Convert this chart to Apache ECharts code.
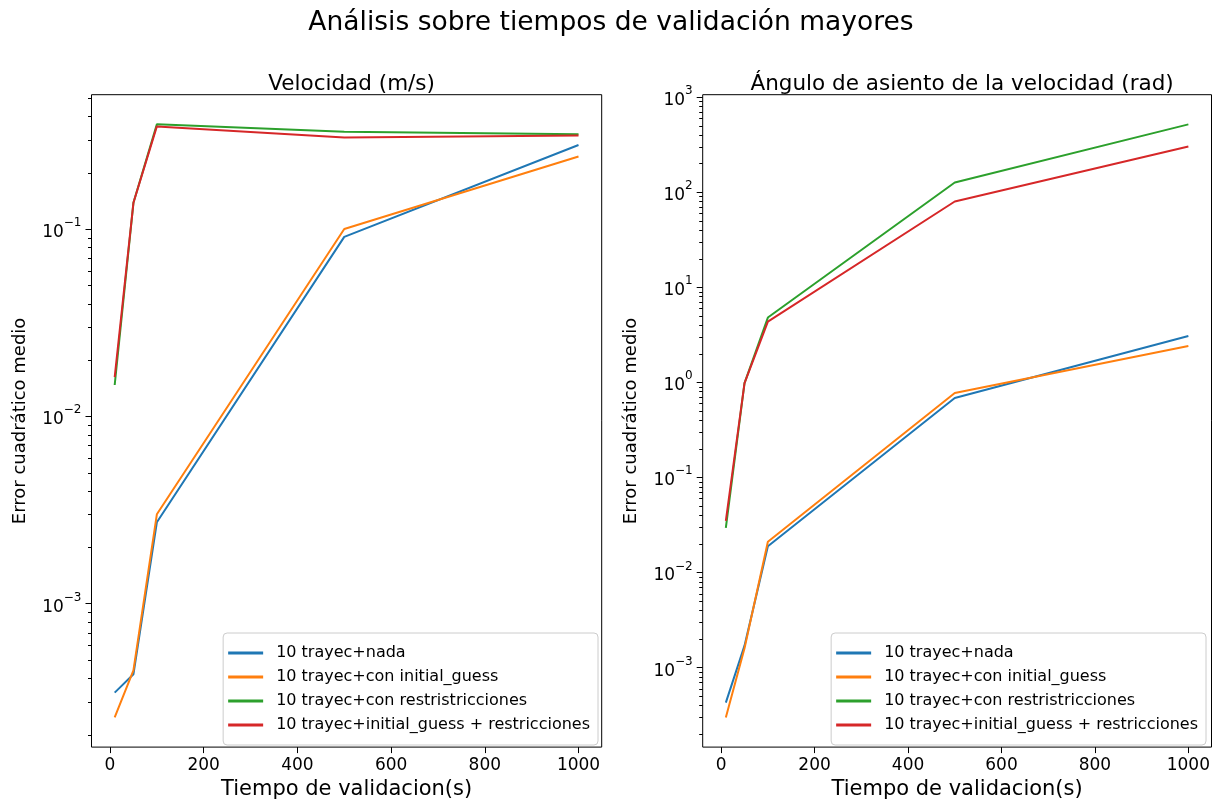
<!DOCTYPE html>
<html>
<head>
<meta charset="utf-8">
<script src="https://cdn.jsdelivr.net/npm/echarts@6/dist/echarts.min.js"></script>
<style>
  html, body { margin: 0; padding: 0; background: #ffffff; }
  #chart { width: 1219px; height: 805px; }
</style>
</head>
<body>
<div id="chart"></div>
<script>
// Validation times (s) shared by both panels
const validationTimes = [10, 50, 100, 500, 1000];

const seriesNames = [
  '10 trayec+nada',
  '10 trayec+con initial_guess',
  '10 trayec+con restristricciones',
  '10 trayec+initial_guess + restricciones'
];
const seriesColors = ['#1f77b4', '#ff7f0e', '#2ca02c', '#d62728'];

// Mean squared error, speed (m/s)
const velNada        = [3.35e-4, 4.2e-4, 2.72e-3, 0.0908, 0.281];
const velInitGuess   = [2.47e-4, 4.4e-4, 3.0e-3, 0.100, 0.244];
const velRestr       = [0.0147, 0.138, 0.362, 0.331, 0.321];
const velInitRestr   = [0.0162, 0.138, 0.353, 0.308, 0.316];

// Mean squared error, pitch angle of the velocity (rad)
const angNada        = [4.28e-4, 1.7e-3, 0.0189, 0.684, 3.06];
const angInitGuess   = [2.99e-4, 1.6e-3, 0.021, 0.771, 2.40];
const angRestr       = [0.0294, 0.98, 4.79, 126, 515];
const angInitRestr   = [0.0348, 0.98, 4.35, 79.6, 301];

const xTickValues = [0, 200, 400, 600, 800, 1000];
const velDecades = [1e-3, 1e-2, 1e-1];
const angDecades = [1e-3, 1e-2, 1e-1, 1, 10, 100, 1000];

const panelTitles = ['Velocidad (m/s)', 'Ángulo de asiento de la velocidad (rad)'];
const figureTitle = 'Análisis sobre tiempos de validación mayores';
const xLabel = 'Tiempo de validacion(s)';
const yLabel = 'Error cuadrático medio';

const FONT = 'DejaVu Sans';

// autoscale limits with 5% margin (log-space for y)
function linLimits(vals) {
  const lo = Math.min(...vals), hi = Math.max(...vals), m = 0.05 * (hi - lo);
  return [lo - m, hi + m];
}
function logLimits(groups) {
  const all = [].concat(...groups).map(Math.log10);
  const lo = Math.min(...all), hi = Math.max(...all), m = 0.05 * (hi - lo);
  return [Math.pow(10, lo - m), Math.pow(10, hi + m)];
}
// 2..9 x 10^k positions inside the axis range
function minorTicks(lim) {
  const out = [];
  for (let k = -6; k <= 4; k++) {
    for (let j = 2; j <= 9; j++) {
      const v = j * Math.pow(10, k);
      if (v >= lim[0] && v <= lim[1]) out.push(v);
    }
  }
  return out;
}
function powerLabel(v) {
  const e = Math.round(Math.log10(v));
  const s = e < 0 ? '\u2212' + (-e) : String(e);
  return '{b|10}{s|' + s + '}';
}

const velGroups = [velNada, velInitGuess, velRestr, velInitRestr];
const angGroups = [angNada, angInitGuess, angRestr, angInitRestr];
const xLim = linLimits(validationTimes);
const velLim = logLimits(velGroups);
const angLim = logLimits(angGroups);

const grids = [
  { left: 91.5, right: 1219 - 601.7, top: 94.7, bottom: 805 - 750.7 },
  { left: 702.7, right: 1219 - 1211.5, top: 94.7, bottom: 805 - 750.7 }
];

function xAxisFor(gridIndex) {
  return {
    type: 'value', gridIndex, min: xLim[0], max: xLim[1], position: 'bottom',
    name: xLabel, nameLocation: 'middle', nameGap: 30,
    nameTextStyle: { fontFamily: FONT, fontSize: 21, color: '#000' },
    axisLine: { show: false, onZero: false },
    splitLine: { show: false },
    axisTick: { show: true, inside: false, length: 6, customValues: xTickValues,
                lineStyle: { color: '#000', width: 1 } },
    axisLabel: { customValues: xTickValues, margin: 10, formatter: v => String(v),
                 fontFamily: FONT, fontSize: 17, color: '#000' }
  };
}
function yAxisFor(gridIndex, lim, decades) {
  return {
    type: 'log', logBase: 10, gridIndex, min: lim[0], max: lim[1], position: 'left',
    name: yLabel, nameLocation: 'middle', nameGap: 62, nameRotate: 90,
    nameTextStyle: { fontFamily: FONT, fontSize: 18, color: '#000' },
    axisLine: { show: false, onZero: false },
    splitLine: { show: false },
    minorTick: { show: false },
    axisTick: { show: true, inside: false, length: 6, customValues: decades,
                lineStyle: { color: '#000', width: 1 } },
    axisLabel: {
      customValues: decades, margin: 10, formatter: powerLabel,
      rich: {
        b: { fontFamily: FONT, fontSize: 17, color: '#000', lineHeight: 24, verticalAlign: 'bottom' },
        s: { fontFamily: FONT, fontSize: 12, color: '#000', lineHeight: 12, verticalAlign: 'top' }
      }
    }
  };
}

const series = [];
function addPanel(groups, xAxisIndex, yAxisIndex) {
  groups.forEach((vals, i) => {
    series.push({
      type: 'line', name: seriesNames[i], xAxisIndex, yAxisIndex,
      data: validationTimes.map((t, k) => [t, vals[k]]),
      symbol: 'none', smooth: false,
      lineStyle: { color: seriesColors[i], width: 2 },
      itemStyle: { color: seriesColors[i] },
      emphasis: { disabled: true }
    });
  });
}
// minor log ticks on the left spine, placed through the axis scale
function addMinorTicks(lim, xAxisIndex, yAxisIndex) {
  series.push({
    type: 'custom', xAxisIndex, yAxisIndex, silent: true, clip: false, z: 5,
    data: minorTicks(lim).map(v => [xLim[0], v]),
    renderItem: (params, api) => {
      const p = api.coord([api.value(0), api.value(1)]);
      const y = Math.round(p[1]) + 0.5;
      return {
        type: 'line',
        shape: { x1: p[0] - 3.5, y1: y, x2: p[0], y2: y },
        style: { stroke: '#000', lineWidth: 1 }
      };
    }
  });
}
addPanel(velGroups, 0, 0);
addPanel(angGroups, 1, 1);
addMinorTicks(velLim, 0, 0);
addMinorTicks(angLim, 1, 1);

function legendFor(rightPx) {
  return {
    data: seriesNames, orient: 'vertical', right: rightPx, bottom: 805 - 745,
    icon: 'rect', itemWidth: 35, itemHeight: 3, itemGap: 8,
    padding: [12, 8, 12, 5], selectedMode: false,
    backgroundColor: 'rgba(255,255,255,0.8)', borderColor: '#cccccc', borderWidth: 1, borderRadius: 4,
    textStyle: { fontFamily: FONT, fontSize: 16, color: '#000', lineHeight: 16, padding: [0, 0, 0, 8] }
  };
}

const option = {
  animation: false,
  backgroundColor: '#ffffff',
  title: [
    { text: figureTitle, left: 606, top: 5, textAlign: 'center',
      textStyle: { fontFamily: FONT, fontSize: 26.5, fontWeight: 'normal', color: '#000' } },
    { text: panelTitles[0], left: (91.5 + 601.7) / 2, top: 68, textAlign: 'center',
      textStyle: { fontFamily: FONT, fontSize: 21.5, fontWeight: 'normal', color: '#000' } },
    { text: panelTitles[1], left: (702.7 + 1211.5) / 2, top: 68, textAlign: 'center',
      textStyle: { fontFamily: FONT, fontSize: 21.5, fontWeight: 'normal', color: '#000' } }
  ],
  grid: grids.map(g => Object.assign({ show: true, borderColor: '#000', borderWidth: 1, backgroundColor: 'transparent' }, g)),
  xAxis: [xAxisFor(0), xAxisFor(1)],
  yAxis: [yAxisFor(0, velLim, velDecades), yAxisFor(1, angLim, angDecades)],
  legend: [legendFor(1219 - 598), legendFor(1219 - 1206)],
  series
};

const chart = echarts.init(document.getElementById('chart'), null, { renderer: 'canvas' });
chart.setOption(option);
</script>
</body>
</html>
